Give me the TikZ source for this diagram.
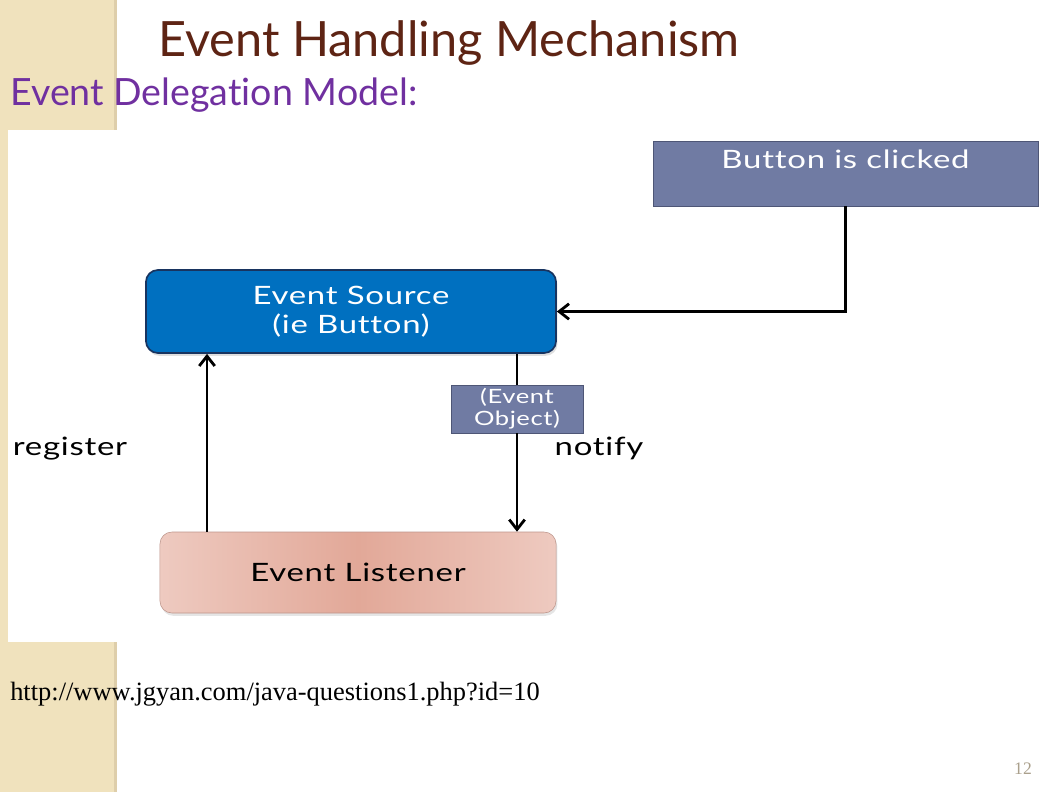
\documentclass[tikz,border=0pt]{standalone}
\usepackage{fontspec}
\setmainfont{Lato}[Ligatures=NoCommon]
\newfontfamily\boxfont{Lato}[FakeStretch=1.3,LetterSpace=3,Ligatures=NoCommon]
\newfontfamily\urlfont{Liberation Serif}
\usepackage{xcolor}
\usetikzlibrary{arrows.meta,positioning,calc,shadows}
\definecolor{titlebrown}{RGB}{94,36,20}
\definecolor{subpurple}{RGB}{112,48,160}
\definecolor{slate}{RGB}{112,123,163}
\definecolor{slateedge}{RGB}{78,86,118}
\definecolor{srcblue}{RGB}{0,112,192}
\definecolor{srcedge}{RGB}{24,52,96}
\definecolor{lstmid}{RGB}{226,168,152}
\definecolor{lstside}{RGB}{238,202,192}
\definecolor{lstedge}{RGB}{190,150,140}
\definecolor{strip}{RGB}{240,226,189}
\definecolor{stripedge}{RGB}{222,206,170}
\definecolor{pagegray}{RGB}{170,160,140}

\begin{document}
\begin{tikzpicture}[x=0.025cm,y=-0.025cm,
  boxtext/.style={font=\boxfont\fontsize{18}{20.6}\selectfont},
  slatebox/.style={draw=slateedge,fill=slate,text=white,inner sep=0pt},
  wire/.style={line width=2pt,black},
  tip/.style={-{Straight Barb[length=7pt,width=11pt]}}]
\useasboundingbox (0,0) rectangle (1057,792);
\fill[white] (0,0) rectangle (1057,792);
\fill[strip] (0,0) rectangle (117,792);
\fill[stripedge] (114,0) rectangle (117,792);
\fill[white] (8,130) rectangle (1040,642);

\node[font=\fontsize{34.6}{40}\selectfont,text=titlebrown,anchor=base] (title) at (449,56) {Event Handling Mechanism};
\node[font=\fontsize{26.7}{32}\selectfont,text=subpurple,anchor=base west,inner sep=0pt] (sub) at (10,105) {Event Delegation Model:};

\node[slatebox,boxtext,minimum width=9.625cm,text height=0.675cm,text depth=0.95cm] (click) at (845.5,173.5) {Button is clicked};
\node[boxtext,draw=srcedge,line width=1.2pt,fill=srcblue,text=white,rounded corners=0.3cm,
  minimum width=10.25cm,minimum height=2.075cm,align=center,
  drop shadow={opacity=0.25,shadow xshift=1pt,shadow yshift=-2pt}] (src) at (351,311.5) {Event Source\\(ie Button)};
\node[boxtext,draw=lstedge,left color=lstside,right color=lstside,middle color=lstmid,rounded corners=0.3cm,
  minimum width=9.9cm,minimum height=2.025cm,
  drop shadow={opacity=0.2,shadow xshift=1pt,shadow yshift=-2pt}] (lst) at (358,572.5) {Event Listener};
\node[slatebox,font=\boxfont\fontsize{14}{15.5}\selectfont,align=center,minimum width=3.3cm,minimum height=1.2cm] (obj) at (517,409) {(Event\\Object)};

\coordinate (reg) at (207,0);
\draw[wire,tip] (click.south) |- (src.east);
\draw[wire] (src.south -| obj.north) -- (obj.north);
\draw[wire,tip] (obj.south) -- (obj.south |- lst.north);
\draw[wire,tip] (lst.north -| reg) -- (src.south -| reg);

\foreach \nm/\xx/\lab in {register/70/register,notify/599/notify}
  \node[boxtext,anchor=base] (\nm) at (\xx,455) {\lab};

\node[font=\urlfont\fontsize{18.8}{22}\selectfont,anchor=base west,inner sep=0pt] (url) at (10,700) {http://www.jgyan.com/java-questions1.php?id=10};
\node[font=\urlfont\fontsize{12.5}{15}\selectfont,text=pagegray,anchor=base] (page) at (1023,774) {12};
\end{tikzpicture}
\end{document}
